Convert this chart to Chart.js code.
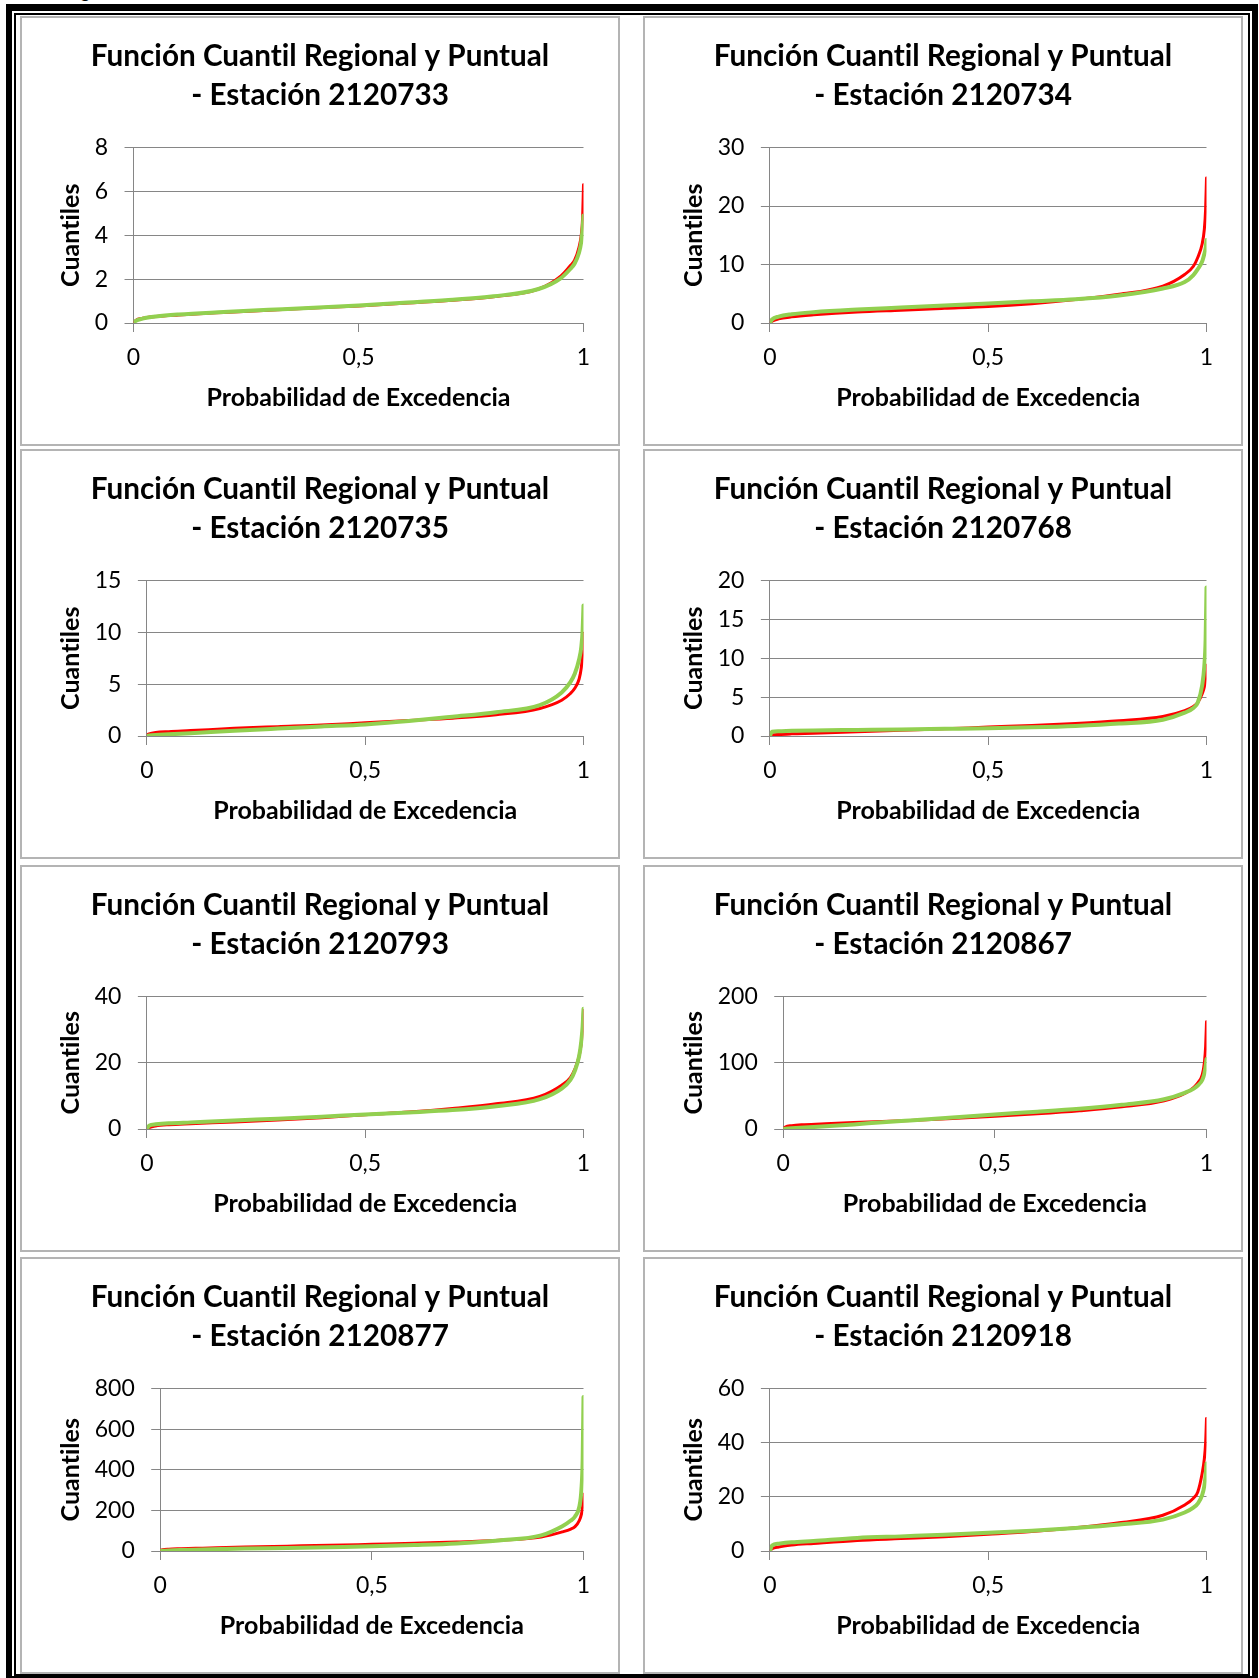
<!DOCTYPE html>
<html lang="es">
<head>
<meta charset="utf-8">
<script src="https://cdn.jsdelivr.net/npm/chart.js@4/dist/chart.umd.min.js"></script>
<style>
html,body{margin:0;padding:0;background:#fff;}
body{width:1259px;height:1678px;position:relative;overflow:hidden;font-family:Lato,sans-serif;}
.caption{position:absolute;left:66px;top:-18px;font-size:18px;line-height:18px;color:#000;white-space:nowrap;}
.frame-outer{position:absolute;left:6px;top:4px;width:1252px;height:1678px;border:6px solid #000;border-top-width:7px;box-sizing:border-box;}
.frame-inner{position:absolute;left:14px;top:13px;width:1236px;height:1663px;border:2px solid #000;box-sizing:border-box;}
.panel{position:absolute;border:2px solid #b4b4b4;box-sizing:border-box;background:#fff;}
.panel canvas{position:absolute;left:0;top:0;}
</style>
</head>
<body>
<div class="caption">Figura</div>
<div class="frame-outer"></div>
<div class="frame-inner"></div>
<div id="panels"></div>
<script>
// ---- Data ----
const probabilidades = [0, 0.005, 0.02, 0.05, 0.1, 0.2, 0.3, 0.4, 0.5, 0.6, 0.7, 0.8, 0.9, 0.95, 0.97, 0.98, 0.99, 0.995, 0.998, 1];
const xTickValues = [0, 0.5, 1];
const xTickLabels = ['0', '0,5', '1'];
const estaciones = ['2120733', '2120734', '2120735', '2120768', '2120793', '2120867', '2120877', '2120918'];

const regional_2120733 = [0, 0.12, 0.22, 0.3, 0.37, 0.48, 0.58, 0.68, 0.78, 0.9, 1.03, 1.2, 1.55, 2.15, 2.6, 2.85, 3.45, 4.0, 4.8, 6.3];
const puntual_2120733  = [0, 0.1, 0.2, 0.3, 0.39, 0.5, 0.6, 0.7, 0.8, 0.92, 1.05, 1.22, 1.55, 2.05, 2.45, 2.7, 3.2, 3.7, 4.3, 4.9];
const yTicks_2120733 = [0, 2, 4, 6, 8];

const regional_2120734 = [0, 0.3, 0.7, 1.05, 1.4, 1.9, 2.2, 2.5, 2.8, 3.3, 4.0, 4.9, 6.3, 8.3, 9.7, 11.2, 13.5, 16, 19.5, 24.8];
const puntual_2120734  = [0, 0.6, 1.1, 1.5, 1.85, 2.3, 2.65, 3.0, 3.35, 3.7, 4.05, 4.7, 5.9, 7.0, 8.2, 9.2, 10.5, 11.8, 12.8, 14.2];
const yTicks_2120734 = [0, 10, 20, 30];

const regional_2120735 = [0.1, 0.2, 0.33, 0.42, 0.52, 0.74, 0.9, 1.05, 1.28, 1.5, 1.72, 2.05, 2.66, 3.45, 4.1, 4.6, 5.5, 6.6, 8.0, 9.9];
const puntual_2120735  = [0, 0.04, 0.1, 0.16, 0.27, 0.51, 0.72, 0.92, 1.12, 1.45, 1.86, 2.3, 2.98, 4.2, 5.2, 6.0, 7.4, 8.6, 10.2, 12.6];
const yTicks_2120735 = [0, 5, 10, 15];

const regional_2120768 = [0, 0.12, 0.2, 0.28, 0.36, 0.55, 0.74, 0.92, 1.15, 1.35, 1.6, 1.95, 2.5, 3.25, 3.8, 4.3, 5.4, 6.3, 7.5, 9.1];
const puntual_2120768  = [0, 0.55, 0.62, 0.67, 0.72, 0.78, 0.84, 0.92, 1.0, 1.12, 1.3, 1.6, 2.1, 3.0, 3.6, 4.3, 6.5, 9.0, 12.5, 19.1];
const yTicks_2120768 = [0, 5, 10, 15, 20];

const regional_2120793 = [0, 0.4, 0.9, 1.3, 1.6, 2.1, 2.7, 3.4, 4.3, 5.1, 6.2, 7.6, 9.8, 13.2, 15.5, 18, 22, 26, 30, 35.8];
const puntual_2120793  = [0, 1.0, 1.4, 1.7, 2.0, 2.6, 3.1, 3.7, 4.4, 5.0, 5.7, 6.9, 9.0, 12.2, 14.8, 17.5, 22, 26.5, 31, 36.3];
const yTicks_2120793 = [0, 20, 40];

const regional_2120867 = [0, 3, 5, 6.5, 8, 10.5, 13, 16, 19.3, 23, 27.5, 33.5, 42.7, 54, 63, 70, 82, 100, 125, 162];
const puntual_2120867  = [0, 0.3, 1, 2.2, 4, 8.5, 13, 17.5, 22, 26, 30.5, 36.5, 44.8, 55, 61, 66, 74, 84, 95, 105.8];
const yTicks_2120867 = [0, 100, 200];

const regional_2120877 = [3, 6, 9, 11, 14, 20, 24, 28, 33, 38, 44, 53, 69, 94, 108, 120, 150, 180, 220, 279];
const puntual_2120877  = [0, 1, 3, 5, 7, 12, 15, 19, 23, 29, 37, 52, 77, 122, 150, 170, 217, 300, 450, 758];
const yTicks_2120877 = [0, 200, 400, 600, 800];

const regional_2120918 = [0, 0.8, 1.5, 2.2, 2.8, 3.9, 4.6, 5.3, 6.2, 7.2, 8.6, 10.4, 13.2, 17, 19.5, 21.8, 28.6, 34, 40, 48.9];
const puntual_2120918  = [0, 2.0, 2.7, 3.2, 3.7, 4.8, 5.4, 6.0, 6.7, 7.5, 8.5, 9.8, 11.6, 14.2, 16, 17.5, 20.6, 24, 28, 32.3];
const yTicks_2120918 = [0, 20, 40, 60];

const seriesRegional = [regional_2120733, regional_2120734, regional_2120735, regional_2120768, regional_2120793, regional_2120867, regional_2120877, regional_2120918];
const seriesPuntual  = [puntual_2120733, puntual_2120734, puntual_2120735, puntual_2120768, puntual_2120793, puntual_2120867, puntual_2120877, puntual_2120918];
const yTicksAll = [yTicks_2120733, yTicks_2120734, yTicks_2120735, yTicks_2120768, yTicks_2120793, yTicks_2120867, yTicks_2120877, yTicks_2120918];

const tituloLinea1 = 'Función Cuantil Regional y Puntual';
const tituloLinea2 = '- Estación ';
const tituloX = 'Probabilidad de Excedencia';
const tituloY = 'Cuantiles';

// ---- Layout (panel boxes) ----
const colLeft = [20, 643];
const rowBox = [[16, 430], [449, 410], [865, 387], [1257, 417]];
const panelW = 600;
const BORDER = 2;

Chart.defaults.font.family = 'Lato, sans-serif';
Chart.defaults.color = '#000';

const noLigatures = {
  id: 'noLigatures',
  beforeInit(chart) { chart.ctx.textRendering = 'optimizeSpeed'; },
  beforeDraw(chart) { chart.ctx.textRendering = 'optimizeSpeed'; }
};

const container = document.getElementById('panels');
estaciones.forEach((est, i) => {
  const col = i % 2, row = Math.floor(i / 2);
  const [top, h] = rowBox[row];
  const div = document.createElement('div');
  div.className = 'panel';
  div.style.left = colLeft[col] + 'px';
  div.style.top = top + 'px';
  div.style.width = panelW + 'px';
  div.style.height = h + 'px';
  const cv = document.createElement('canvas');
  const cw = panelW - 2 * BORDER, ch = h - 2 * BORDER;
  cv.width = cw; cv.height = ch;
  cv.style.width = cw + 'px'; cv.style.height = ch + 'px';
  div.appendChild(cv);
  container.appendChild(div);

  const ticks = yTicksAll[i];
  const yMin = ticks[0], yMax = ticks[ticks.length - 1], yStep = ticks[1] - ticks[0];
  const toPts = arr => probabilidades.map((p, k) => ({x: p, y: arr[k]}));

  new Chart(cv, {
    type: 'line',
    plugins: [noLigatures],
    data: {
      datasets: [
        {label: 'Regional', order: 2, data: toPts(seriesRegional[i]), borderColor: '#ff0000', backgroundColor: '#ff0000', borderWidth: 3, pointRadius: 0, cubicInterpolationMode: 'monotone', borderJoinStyle: 'round', borderCapStyle: 'round', fill: false},
        {label: 'Puntual', order: 1, data: toPts(seriesPuntual[i]), borderColor: '#92d050', backgroundColor: '#92d050', borderWidth: 4, pointRadius: 0, cubicInterpolationMode: 'monotone', borderJoinStyle: 'round', borderCapStyle: 'round', fill: false}
      ]
    },
    options: {
      responsive: false,
      animation: false,
      devicePixelRatio: 1,
      layout: {padding: {left: 34.5, right: 34.5, top: 0, bottom: 31}},
      plugins: {
        legend: {display: false},
        tooltip: {enabled: false},
        title: {
          display: true,
          text: [tituloLinea1, tituloLinea2 + est],
          color: '#000',
          font: {size: 29.7, weight: 'bold', lineHeight: '39px'},
          padding: {top: 19, bottom: 32.5}
        }
      },
      scales: {
        x: {
          type: 'linear',
          min: 0, max: 1,
          afterBuildTicks: s => { s.ticks = xTickValues.map(v => ({value: v})); },
          ticks: {
            callback: (v) => xTickLabels[xTickValues.indexOf(v)],
            font: {size: 23},
            padding: 12.2,
            maxRotation: 0,
            autoSkip: false
          },
          grid: {drawOnChartArea: false, drawTicks: true, tickLength: 9, color: '#868686', lineWidth: 1},
          border: {display: true, color: '#868686', width: 1},
          title: {display: true, text: tituloX, font: {size: 25, weight: 'bold', lineHeight: 1.2}, padding: {top: -1, bottom: 0}}
        },
        y: {
          type: 'linear',
          min: yMin, max: yMax,
          ticks: {stepSize: yStep, font: {size: 23}, padding: 16.5},
          grid: {drawTicks: true, tickLength: 9, color: '#868686', lineWidth: 1},
          border: {display: true, color: '#868686', width: 1},
          title: {display: true, text: tituloY, font: {size: 25, weight: 'bold', lineHeight: 1.2}, padding: {top: -0.1, bottom: -8.2}}
        }
      }
    }
  });
});
</script>
</body>
</html>
